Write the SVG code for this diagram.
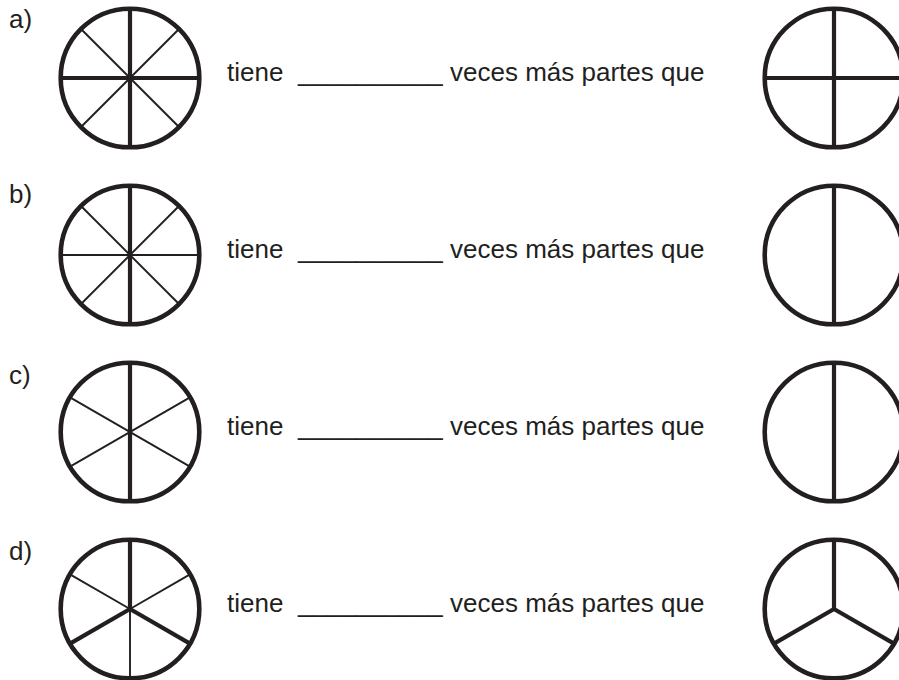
<svg xmlns="http://www.w3.org/2000/svg" width="899" height="680" viewBox="0 0 899 680">
<style>
.c{fill:none;stroke:#231f20;stroke-width:4.6}
.k{stroke:#231f20;stroke-width:4.2;stroke-linecap:butt}
.n{stroke:#231f20;stroke-width:1.9;stroke-linecap:butt}
.t{font-family:"Liberation Sans",Arial,sans-serif;font-size:26px;fill:#231f20}
</style>
<rect width="899" height="680" fill="#fff"/>
<defs>
<circle id="o" r="69.3" class="c"/>
</defs>
<g id="row-a">
<text class="t" x="9" y="28">a)</text>
<g id="a-left" transform="translate(130,78)">
<line class="n" x1="-49" y1="-49" x2="49" y2="49"/>
<line class="n" x1="-49" y1="49" x2="49" y2="-49"/>
<line class="k" x1="-69" y1="0" x2="69" y2="0"/>
<line class="k" x1="0" y1="-69" x2="0" y2="69"/>
<use href="#o"/>
</g>
<text class="t" y="81"><tspan x="227">tiene</tspan><tspan x="298">__________</tspan><tspan x="450">veces más partes que</tspan></text>
<g id="a-right" transform="translate(834,78)">
<line class="k" x1="-69" y1="0" x2="69" y2="0"/>
<line class="k" x1="0" y1="-69" x2="0" y2="69"/>
<use href="#o"/>
</g>
</g>
<g id="row-b">
<text class="t" x="9" y="203">b)</text>
<g id="b-left" transform="translate(130,255)">
<line class="n" x1="-49" y1="-49" x2="49" y2="49"/>
<line class="n" x1="-49" y1="49" x2="49" y2="-49"/>
<line class="n" x1="-69" y1="0" x2="69" y2="0"/>
<line class="k" x1="0" y1="-69" x2="0" y2="69"/>
<use href="#o"/>
</g>
<text class="t" y="258"><tspan x="227">tiene</tspan><tspan x="298">__________</tspan><tspan x="450">veces más partes que</tspan></text>
<g id="b-right" transform="translate(834,255)">
<line class="k" x1="0" y1="-69" x2="0" y2="69"/>
<use href="#o"/>
</g>
</g>
<g id="row-c">
<text class="t" x="9" y="384">c)</text>
<g id="c-left" transform="translate(130,432)">
<line class="n" x1="-60" y1="-34.6" x2="60" y2="34.6"/>
<line class="n" x1="-60" y1="34.6" x2="60" y2="-34.6"/>
<line class="k" x1="0" y1="-69" x2="0" y2="69"/>
<use href="#o"/>
</g>
<text class="t" y="435"><tspan x="227">tiene</tspan><tspan x="298">__________</tspan><tspan x="450">veces más partes que</tspan></text>
<g id="c-right" transform="translate(834,432)">
<line class="k" x1="0" y1="-69" x2="0" y2="69"/>
<use href="#o"/>
</g>
</g>
<g id="row-d">
<text class="t" x="9" y="560">d)</text>
<g id="d-left" transform="translate(130,609)">
<line class="n" x1="0" y1="0" x2="-60" y2="-34.6"/>
<line class="n" x1="0" y1="0" x2="60" y2="-34.6"/>
<line class="n" x1="0" y1="0" x2="0" y2="69"/>
<line class="k" x1="0" y1="0" x2="0" y2="-69"/>
<line class="k" x1="0" y1="0" x2="-60" y2="34.6"/>
<line class="k" x1="0" y1="0" x2="60" y2="34.6"/>
<use href="#o"/>
</g>
<text class="t" y="612"><tspan x="227">tiene</tspan><tspan x="298">__________</tspan><tspan x="450">veces más partes que</tspan></text>
<g id="d-right" transform="translate(834,609)">
<line class="k" x1="0" y1="0" x2="0" y2="-69"/>
<line class="k" x1="0" y1="0" x2="-60" y2="34.6"/>
<line class="k" x1="0" y1="0" x2="60" y2="34.6"/>
<use href="#o"/>
</g>
</g>
</svg>
